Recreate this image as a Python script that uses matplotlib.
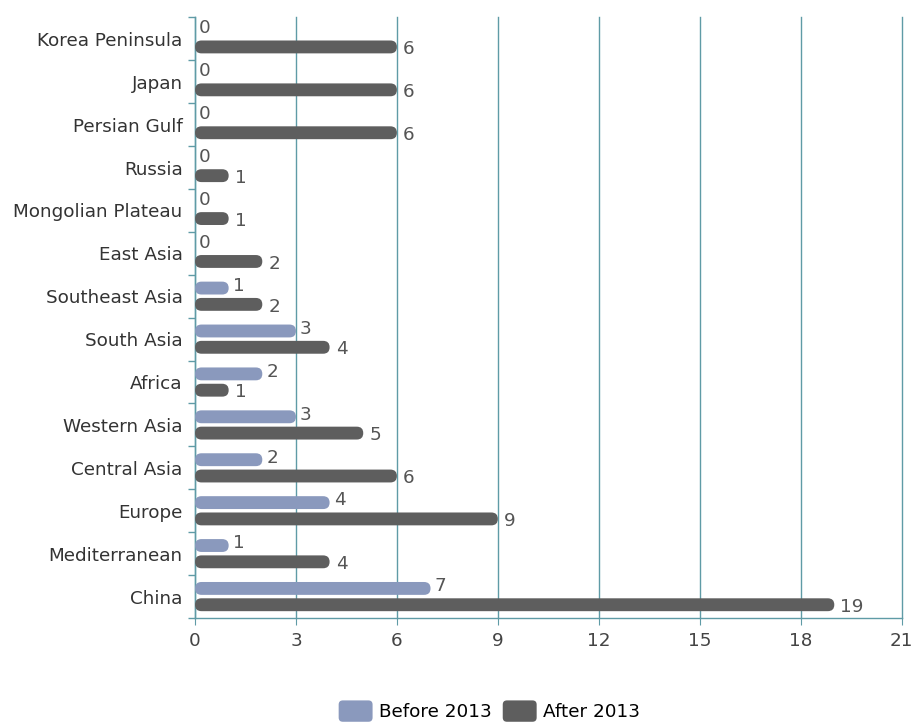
import matplotlib
matplotlib.use('Agg')
import matplotlib.pyplot as plt
from matplotlib.patches import FancyBboxPatch, Patch
from matplotlib.legend_handler import HandlerPatch

# data (top to bottom as shown)
regions = ['Korea Peninsula', 'Japan', 'Persian Gulf', 'Russia', 'Mongolian Plateau',
           'East Asia', 'Southeast Asia', 'South Asia', 'Africa', 'Western Asia',
           'Central Asia', 'Europe', 'Mediterranean', 'China']
before_2013 = [0, 0, 0, 0, 0, 0, 1, 3, 2, 3, 2, 4, 1, 7]
after_2013 = [6, 6, 6, 1, 1, 2, 2, 4, 1, 5, 6, 9, 4, 19]

c_before = '#8a99bd'
c_after = '#5e5e5e'
c_grid = '#5f9ba6'

plt.rcParams['font.family'] = ['DejaVu Sans']
fs = 13.2

fig = plt.figure(figsize=(9.13, 7.22), dpi=100)
ax = fig.add_axes([0.2136, 0.144, 0.9875 - 0.2136, 0.976 - 0.144])

n = len(regions)
ys = [n - 1 - i for i in range(n)]
off = 0.19
h = 0.30

ax.set_xlim(0, 21)
ax.set_ylim(-0.5, n - 0.5)

# pixel scales to keep the rounded ends circular
xpx = ax.get_position().width * fig.get_figwidth() * fig.dpi / 21.0
ypx = ax.get_position().height * fig.get_figheight() * fig.dpi / n
aspect = xpx / ypx
r = (h / 2) / aspect


def rbar(y, v, color):
    if v <= 0:
        return
    p = FancyBboxPatch((0, y - h / 2), v, h,
                       boxstyle='round,pad=0,rounding_size=%f' % r,
                       mutation_aspect=aspect, facecolor=color,
                       edgecolor='none', zorder=3)
    ax.add_patch(p)


for y, b, a in zip(ys, before_2013, after_2013):
    rbar(y + off, b, c_before)
    rbar(y - off, a, c_after)
    ax.text(b + 0.12, y + off + 0.05, str(b), va='center', ha='left',
            fontsize=fs, color='#555555', zorder=4)
    ax.text(a + 0.18, y - off - 0.05, str(a), va='center', ha='left',
            fontsize=fs, color='#555555', zorder=4)

ax.set_yticks(ys)
ax.set_yticklabels(regions, fontsize=fs, color='#333333')
ax.set_yticks([i - 0.5 for i in range(n + 1)], minor=True)
ax.tick_params(axis='y', which='major', length=0, pad=9)
ax.tick_params(axis='y', which='minor', length=5, color=c_grid, width=1)

ax.set_xticks(range(0, 22, 3))
ax.tick_params(axis='x', length=5, color=c_grid, labelsize=fs,
               labelcolor='#444444', pad=5)

ax.grid(axis='x', color=c_grid, linewidth=1, zorder=0)
for gl in ax.get_xgridlines():
    gl.set_clip_on(False)
ax.set_axisbelow(True)
for s in ['top', 'right']:
    ax.spines[s].set_visible(False)
for s in ['left', 'bottom']:
    ax.spines[s].set_color(c_grid)
    ax.spines[s].set_linewidth(1)


# rounded legend keys
def round_key(legend, orig_handle, xdescent, ydescent, width, height, fontsize):
    return FancyBboxPatch((-xdescent, -ydescent - 2), width, height + 4,
                          boxstyle='round,pad=0,rounding_size=3')


handles = [Patch(facecolor=c_before, label='Before 2013'),
           Patch(facecolor=c_after, label='After 2013')]
fig.legend(handles=handles, loc='lower center', ncol=2, frameon=False,
           bbox_to_anchor=(0.536, -0.022), fontsize=fs, handlelength=1.85,
           handleheight=0.95, columnspacing=0.6, handletextpad=0.35,
           handler_map={Patch: HandlerPatch(patch_func=round_key)})

fig.savefig('out.png', dpi=100)
